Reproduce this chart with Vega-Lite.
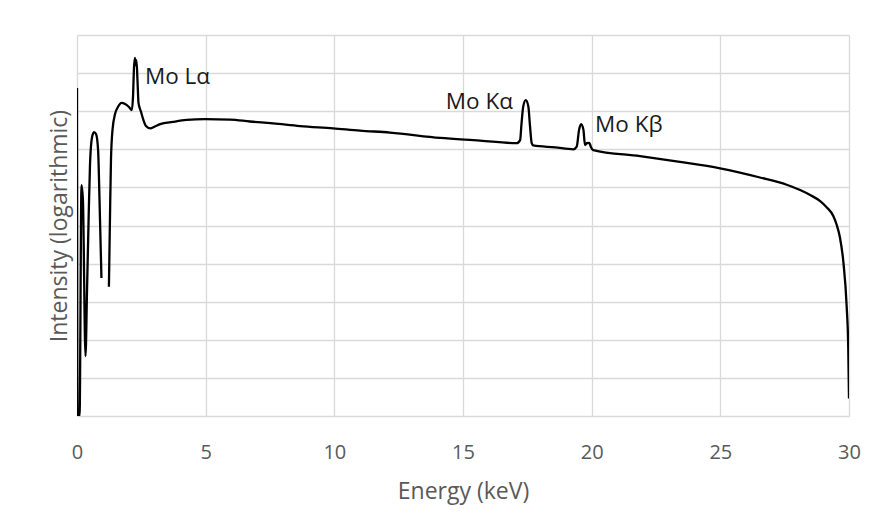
{
  "$schema": "https://vega.github.io/schema/vega-lite/v6.json",
  "width": 772,
  "height": 381,
  "autosize": {"type": "none"},
  "padding": {"left": 77, "top": 35, "right": 28, "bottom": 115},
  "background": "white",
  "config": {
    "view": {"stroke": null},
    "font": "Open Sans",
    "axis": {
      "grid": true,
      "gridColor": "#d9d9d9",
      "gridWidth": 1.3,
      "domain": false,
      "ticks": false,
      "tickSize": 0,
      "labelFlush": false,
      "labelColor": "#595959",
      "titleColor": "#595959",
      "labelFontSize": 20,
      "titleFontSize": 23,
      "titleFontWeight": "normal",
      "labelFont": "Open Sans",
      "titleFont": "Open Sans"
    }
  },
  "datasets": {
    "spectrum": [
      {"e": 0.0, "i": 8.61},
      {"e": 0.02, "i": 0.0},
      {"e": 0.1, "i": 0.0},
      {"e": 0.175, "i": 6.06},
      {"e": 0.23, "i": 5.67},
      {"e": 0.33, "i": 1.57},
      {"e": 0.39, "i": 3.31},
      {"e": 0.45, "i": 5.14},
      {"e": 0.505, "i": 6.59},
      {"e": 0.58, "i": 7.3},
      {"e": 0.66, "i": 7.45},
      {"e": 0.74, "i": 7.4},
      {"e": 0.82, "i": 6.98},
      {"e": 0.875, "i": 5.67},
      {"e": 0.95, "i": 3.62},
      {"e": 1.1, "i": null},
      {"e": 1.24, "i": 3.39},
      {"e": 1.28, "i": 5.14},
      {"e": 1.32, "i": 6.72},
      {"e": 1.38, "i": 7.51},
      {"e": 1.48, "i": 7.93},
      {"e": 1.59, "i": 8.11},
      {"e": 1.73, "i": 8.22},
      {"e": 1.87, "i": 8.19},
      {"e": 2.02, "i": 8.11},
      {"e": 2.13, "i": 8.03},
      {"e": 2.18, "i": 8.43},
      {"e": 2.21, "i": 9.08},
      {"e": 2.25, "i": 9.4},
      {"e": 2.28, "i": 9.21},
      {"e": 2.31, "i": 9.34},
      {"e": 2.35, "i": 8.82},
      {"e": 2.39, "i": 8.22},
      {"e": 2.49, "i": 7.98},
      {"e": 2.58, "i": 7.77},
      {"e": 2.68, "i": 7.61},
      {"e": 2.84, "i": 7.55},
      {"e": 3.03, "i": 7.6},
      {"e": 3.23, "i": 7.66},
      {"e": 3.73, "i": 7.72},
      {"e": 4.26, "i": 7.77},
      {"e": 4.97, "i": 7.79},
      {"e": 5.95, "i": 7.78},
      {"e": 6.72, "i": 7.73},
      {"e": 7.62, "i": 7.68},
      {"e": 8.67, "i": 7.61},
      {"e": 9.95, "i": 7.55},
      {"e": 11.0, "i": 7.49},
      {"e": 12.16, "i": 7.44},
      {"e": 14.11, "i": 7.3},
      {"e": 15.66, "i": 7.23},
      {"e": 17.09, "i": 7.16},
      {"e": 17.22, "i": 7.24},
      {"e": 17.27, "i": 7.64},
      {"e": 17.34, "i": 8.12},
      {"e": 17.44, "i": 8.29},
      {"e": 17.54, "i": 8.12},
      {"e": 17.6, "i": 7.64},
      {"e": 17.67, "i": 7.16},
      {"e": 17.73, "i": 7.1},
      {"e": 18.58, "i": 7.05},
      {"e": 19.29, "i": 7.0},
      {"e": 19.42, "i": 7.07},
      {"e": 19.51, "i": 7.51},
      {"e": 19.59, "i": 7.66},
      {"e": 19.68, "i": 7.51},
      {"e": 19.74, "i": 7.11},
      {"e": 19.81, "i": 7.16},
      {"e": 19.91, "i": 7.17},
      {"e": 19.97, "i": 7.06},
      {"e": 20.06, "i": 6.98},
      {"e": 21.88, "i": 6.82},
      {"e": 23.43, "i": 6.67},
      {"e": 24.99, "i": 6.5},
      {"e": 26.54, "i": 6.26},
      {"e": 27.58, "i": 6.07},
      {"e": 28.1, "i": 5.93},
      {"e": 28.49, "i": 5.8},
      {"e": 28.88, "i": 5.64},
      {"e": 29.13, "i": 5.48},
      {"e": 29.39, "i": 5.25},
      {"e": 29.52, "i": 5.02},
      {"e": 29.65, "i": 4.68},
      {"e": 29.78, "i": 4.05},
      {"e": 29.91, "i": 2.87},
      {"e": 29.97, "i": 1.82},
      {"e": 30.0, "i": 0.46}
    ],
    "leftLabels": [
      {"e": 2.64, "i": 8.9, "label": "Mo Lα"},
      {"e": 20.13, "i": 7.64, "label": "Mo Kβ"}
    ],
    "rightLabels": [
      {"e": 16.94, "i": 8.24, "label": "Mo Kα"}
    ]
  },
  "encoding": {
    "x": {
      "field": "e",
      "type": "quantitative",
      "scale": {"domain": [0, 30], "nice": false, "zero": false},
      "axis": {"values": [0, 5, 10, 15, 20, 25, 30], "title": "Energy (keV)", "labelPadding": 26, "titlePadding": 18}
    },
    "y": {
      "field": "i",
      "type": "quantitative",
      "scale": {"domain": [0, 10], "nice": false, "zero": false},
      "axis": {"values": [0, 1, 2, 3, 4, 5, 6, 7, 8, 9, 10], "labels": false, "title": "Intensity (logarithmic)", "titlePadding": 6}
    }
  },
  "layer": [
    {
      "data": {"name": "spectrum"},
      "mark": {"type": "line", "color": "black", "strokeWidth": 2.3, "clip": true, "interpolate": "monotone", "invalid": "break-paths-show-domains"}
    },
    {
      "data": {"name": "leftLabels"},
      "mark": {"type": "text", "align": "left", "baseline": "middle", "fontSize": 22.5, "font": "Open Sans", "color": "#1a1a1a"},
      "encoding": {"text": {"field": "label"}}
    },
    {
      "data": {"name": "rightLabels"},
      "mark": {"type": "text", "align": "right", "baseline": "middle", "fontSize": 22.5, "font": "Open Sans", "color": "#1a1a1a"},
      "encoding": {"text": {"field": "label"}}
    }
  ]
}
